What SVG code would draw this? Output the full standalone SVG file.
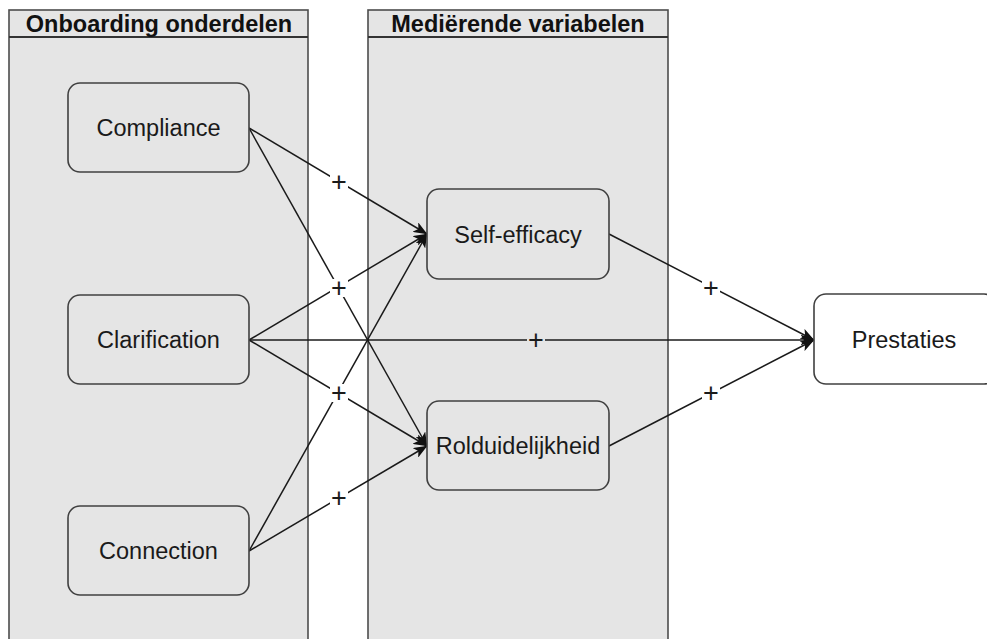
<svg xmlns="http://www.w3.org/2000/svg" width="987" height="639" viewBox="0 0 987 639">
<style>
.cont{fill:#e5e5e5;stroke:#4d4d4d;stroke-width:1.6}
.hdr{fill:none;stroke:#333;stroke-width:2}
.htxt{font-family:"Liberation Sans",Arial,sans-serif;font-size:23.5px;font-weight:bold;fill:#111;text-anchor:middle}
.node{fill:#e5e5e5;stroke:#404040;stroke-width:1.6}
.nodew{fill:#fff;stroke:#404040;stroke-width:1.6}
.ntxt{font-family:"Liberation Sans",Arial,sans-serif;font-size:23.5px;fill:#1a1a1a;text-anchor:middle}
.edge{fill:none;stroke:#1a1a1a;stroke-width:1.5;marker-end:url(#arr)}
.lbl{font-family:"Liberation Sans",Arial,sans-serif;font-size:27px;fill:#1a1a1a;text-anchor:middle}
.bgw{fill:#fff}
.bgg{fill:#e5e5e5}
</style>
<defs>
<marker id="arr" viewBox="0 0 14 11" markerWidth="14" markerHeight="11" refX="13.5" refY="5.5" orient="auto" markerUnits="userSpaceOnUse">
<path d="M0,0 L14,5.5 L0,11 L3.5,5.5 Z" fill="#111"/>
</marker>
</defs>
<rect width="987" height="639" fill="#fff"/>
<g id="container-onboarding">
<rect class="cont" x="9" y="10" width="299" height="640"/>
<line class="hdr" x1="9" y1="37" x2="308" y2="37"/>
<text class="htxt" x="159" y="31.5">Onboarding onderdelen</text>
</g>
<g id="container-mediatoren">
<rect class="cont" x="368" y="10" width="300" height="640"/>
<line class="hdr" x1="368" y1="37" x2="668" y2="37"/>
<text class="htxt" x="518" y="31.5">Mediërende variabelen</text>
</g>
<g id="connectors">
<line class="edge" x1="249" y1="128" x2="427" y2="234"/>
<line class="edge" x1="249" y1="128" x2="427" y2="446"/>
<line class="edge" x1="249" y1="340" x2="427" y2="234"/>
<line class="edge" x1="249" y1="340" x2="427" y2="446"/>
<line class="edge" x1="249" y1="340" x2="814" y2="340"/>
<line class="edge" x1="249" y1="551" x2="427" y2="234"/>
<line class="edge" x1="249" y1="551" x2="427" y2="446"/>
<line class="edge" x1="609" y1="234" x2="814" y2="340"/>
<line class="edge" x1="609" y1="446" x2="814" y2="340"/>
<rect class="bgw" x="330" y="173" width="18" height="18"/>
<text class="lbl" x="339" y="191">+</text>
<rect class="bgw" x="330" y="279" width="18" height="18"/>
<text class="lbl" x="339" y="297">+</text>
<rect class="bgw" x="330" y="384" width="18" height="18"/>
<text class="lbl" x="339" y="402">+</text>
<rect class="bgw" x="330" y="489" width="18" height="18"/>
<text class="lbl" x="339" y="507">+</text>
<rect class="bgg" x="527" y="331" width="18" height="18"/>
<text class="lbl" x="536" y="349">+</text>
<rect class="bgw" x="702" y="279" width="18" height="18"/>
<text class="lbl" x="711" y="297">+</text>
<rect class="bgw" x="702" y="384" width="18" height="18"/>
<text class="lbl" x="711" y="402">+</text>
</g>
<g id="node-compliance">
<rect class="node" x="68" y="83" width="181" height="89" rx="12"/>
<text class="ntxt" x="158.5" y="136">Compliance</text>
</g>
<g id="node-clarification">
<rect class="node" x="68" y="295" width="181" height="89" rx="12"/>
<text class="ntxt" x="158.5" y="348">Clarification</text>
</g>
<g id="node-connection">
<rect class="node" x="68" y="506" width="181" height="89" rx="12"/>
<text class="ntxt" x="158.5" y="559">Connection</text>
</g>
<g id="node-selfefficacy">
<rect class="node" x="427" y="189" width="182" height="90" rx="12"/>
<text class="ntxt" x="518" y="242.5">Self-efficacy</text>
</g>
<g id="node-rolduidelijkheid">
<rect class="node" x="427" y="401" width="182" height="89" rx="12"/>
<text class="ntxt" x="518" y="454">Rolduidelijkheid</text>
</g>
<g id="node-prestaties">
<rect class="nodew" x="814" y="294" width="182" height="90" rx="12"/>
<text class="ntxt" x="904" y="347.5">Prestaties</text>
</g>
</svg>
